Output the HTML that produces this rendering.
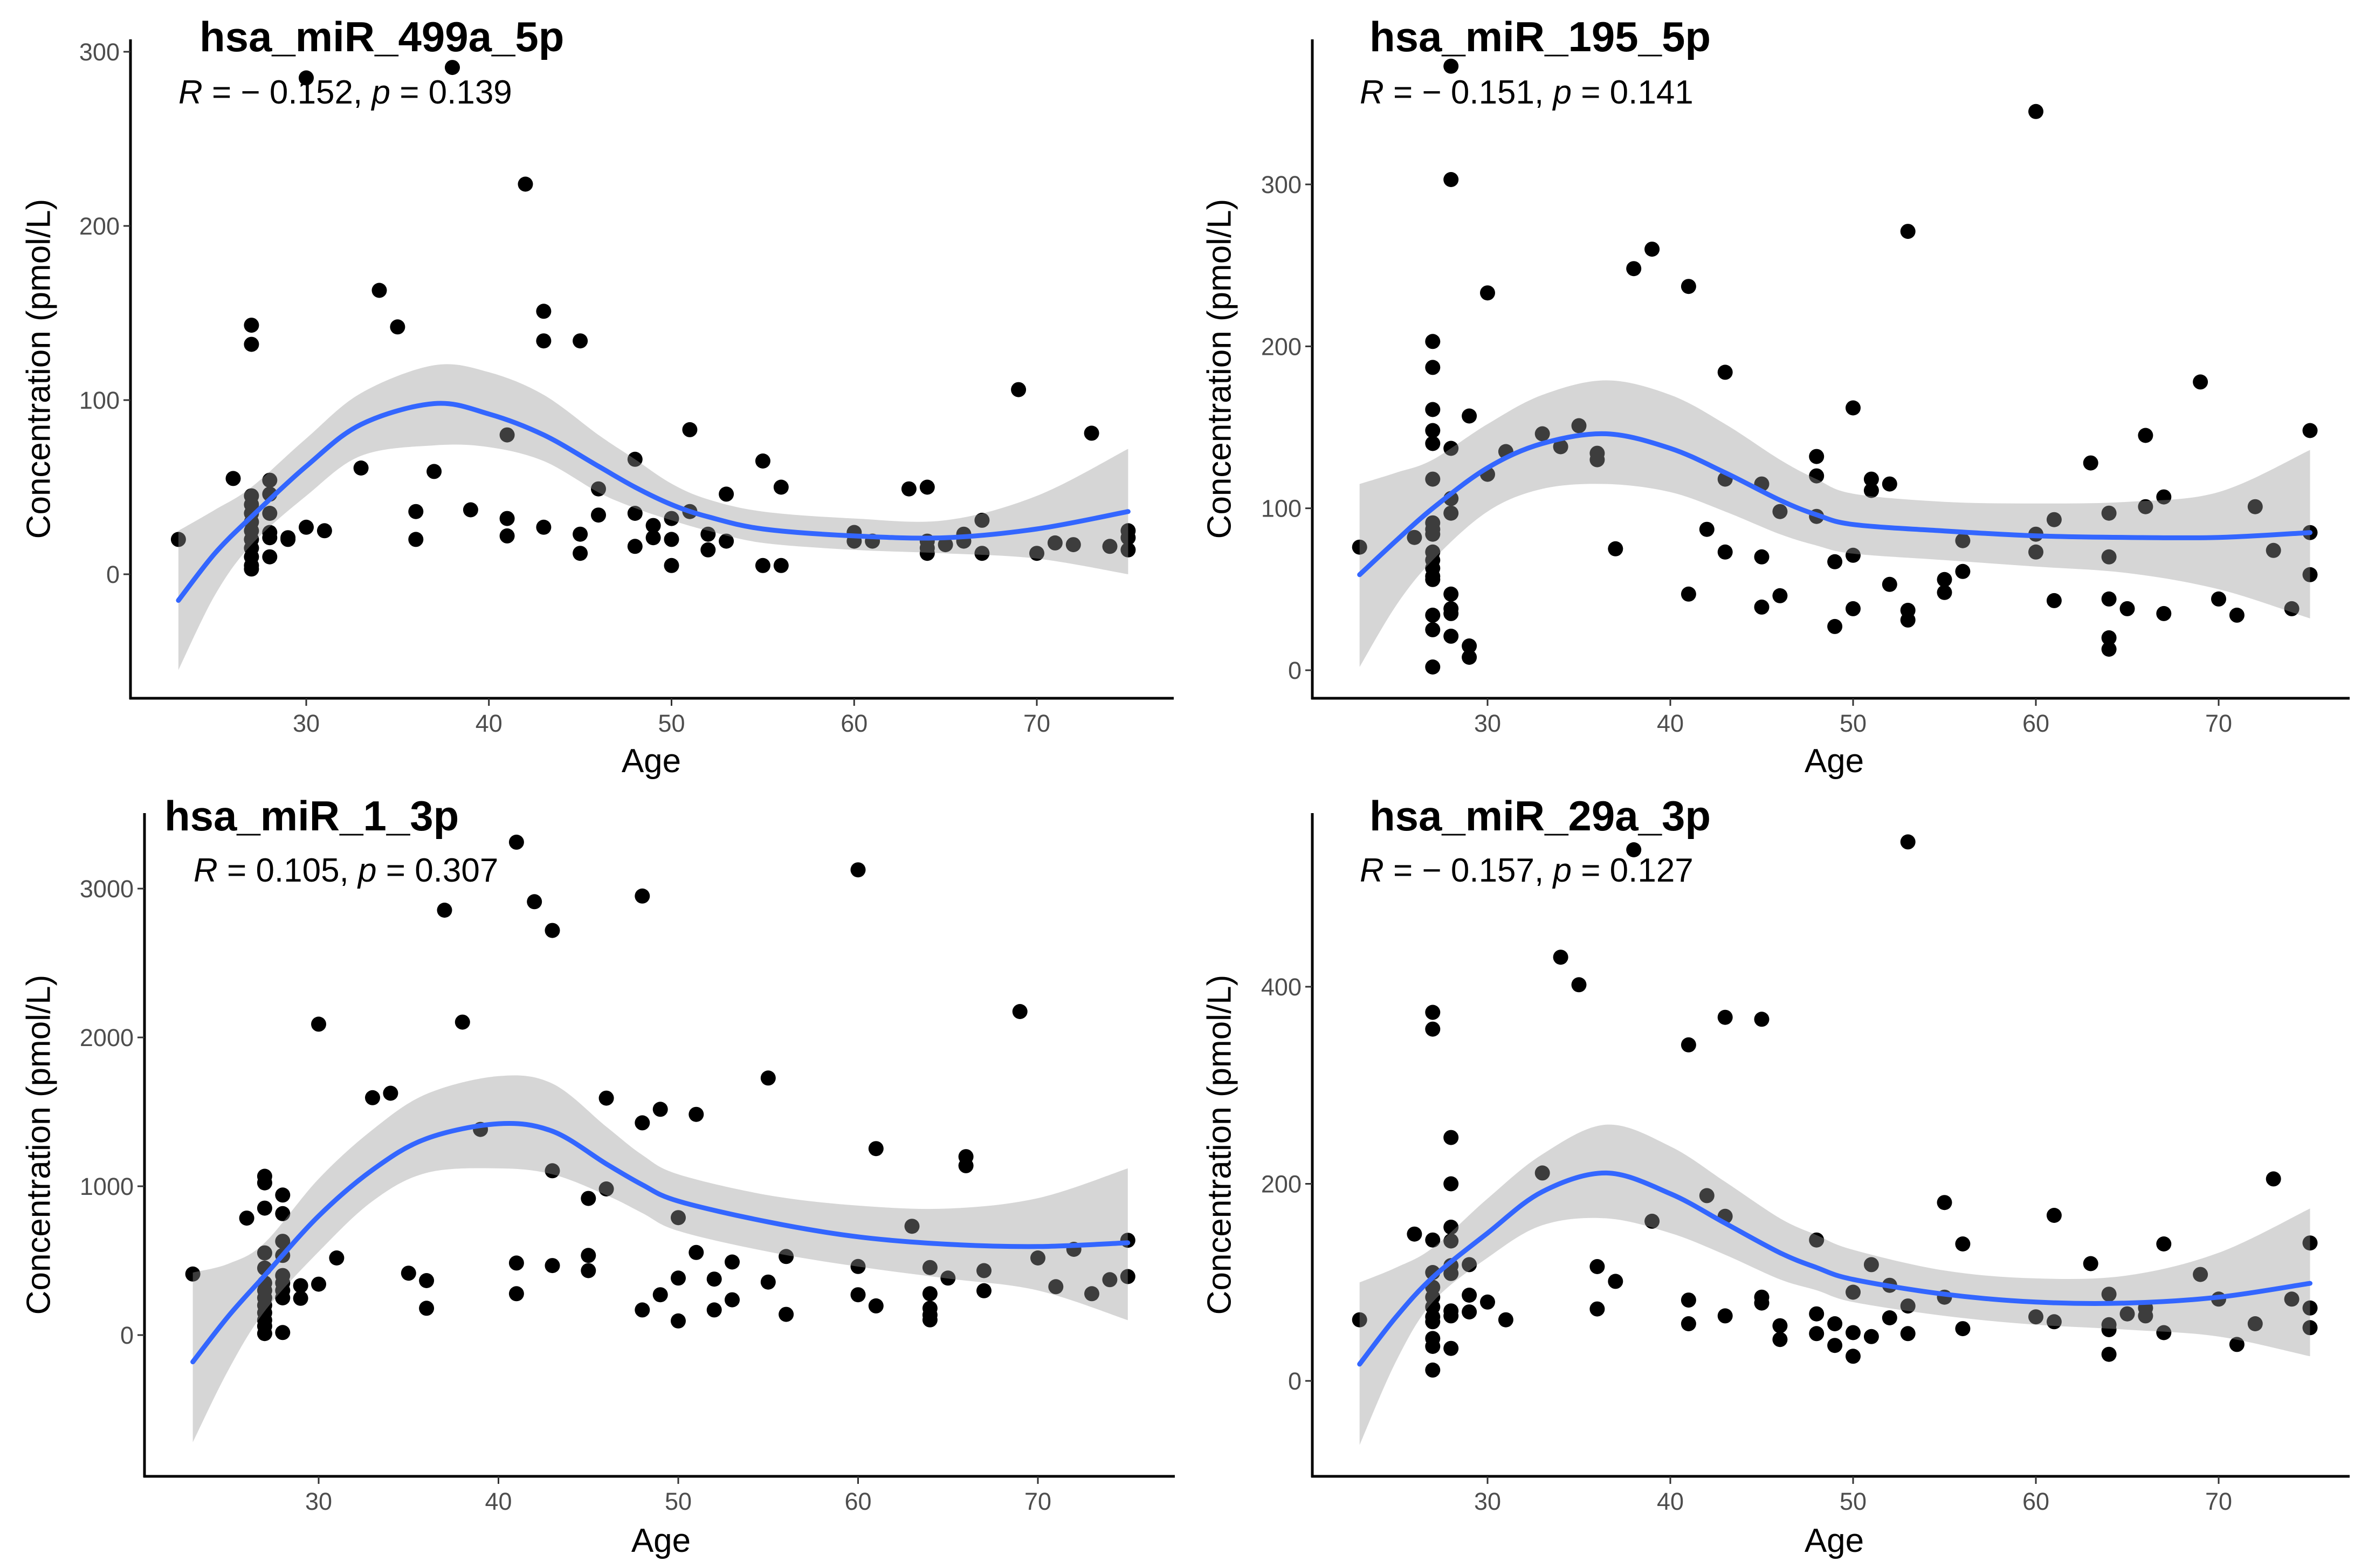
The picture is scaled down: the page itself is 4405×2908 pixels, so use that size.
<!DOCTYPE html>
<html><head><meta charset="utf-8"><style>
html,body{margin:0;padding:0;background:#fff;}
svg{display:block;}
text{font-family:"Liberation Sans",Arial,sans-serif;}
</style></head><body>
<svg id="chart" xmlns="http://www.w3.org/2000/svg" width="4405" height="2908" viewBox="0 0 4405 2908"></svg>
<script>
// ---- Panel 1: hsa_miR_499a_5p ----
const p1Ages = [23,26,27,27,27,27,27,27,27,27,27,27,27,27,28,28,28,28,28,28,29,29,30,30,31,33,34,35,36,36,37,38,39,41,41,41,42,43,43,43,45,45,45,46,46,48,48,48,49,49,50,50,50,51,51,52,52,53,53,55,55,56,56,60,60,61,63,64,64,64,64,65,66,66,67,67,69,70,71,72,73,74,75,75,75];
const p1Vals = [20,55,143,132,45,40,35,30,25,20,15,10,5,3,54,46,35,24,21,10,20,21,285,27,25,61,163,142,36,20,59,291,37,80,32,22,224,151,134,27,134,23,12,49,34,66,35,16,28,21,32,20,5,83,36,23,14,46,19,65,5,50,5,24,19,19,49,50,19,15,12,17,23,19,31,12,106,12,18,17,81,16,25,21,14];
const p1FitAges = [23,25,27,30,33,37,40,43,46,48,50,52,55,60,65,70,75];
const p1Fit = [-15,12,33,62,86,98,92,80,62,50,40,33,26,22,21,26,36];
const p1Lo = [-55,-12,17,45,68,74,73,65,47,38,31,25,18,14,12,9,0];
const p1Hi = [25,37,50,78,104,120,116,103,80,66,52,43,36,32,31,45,72];
const p1YTicks = [0,100,200,300];
// ---- Panel 2: hsa_miR_195_5p ----
const p2Ages = [23,26,27,27,27,27,27,27,27,27,27,27,27,27,27,27,27,27,27,28,28,28,28,28,28,28,28,28,29,29,29,30,30,31,33,34,35,36,36,37,38,39,41,41,42,43,43,43,45,45,45,46,46,48,48,48,49,49,50,50,50,51,51,52,52,53,53,53,55,55,56,56,60,60,60,61,61,63,64,64,64,64,64,65,66,66,67,67,69,70,71,72,73,74,75,75,75];
const p2Vals = [76,82,203,187,161,148,140,118,91,87,84,73,68,63,58,56,34,25,2,373,303,137,106,97,47,38,35,21,157,15,8,233,121,135,146,138,151,134,130,75,248,260,237,47,87,184,118,73,115,70,39,98,46,132,120,95,67,27,162,71,38,118,111,115,53,271,37,31,56,48,80,61,345,84,73,93,43,128,97,70,44,20,13,38,145,101,107,35,178,44,34,101,74,38,148,85,59];
const p2FitAges = [23,25,27,30,33,36.5,40,43,46,48,50,55,60,65,70,75];
const p2Fit = [59,80,100,125,140,146,137,122,105,96,90,86,83,82,82,85];
const p2Lo = [2,40,68,98,112,115,110,98,84,77,72,68,64,60,50,32];
const p2Hi = [115,122,130,152,170,179,170,152,130,118,109,104,103,104,110,136];
const p2YTicks = [0,100,200,300];
// ---- Panel 3: hsa_miR_1_3p ----
const p3Ages = [23,26,27,27,27,27,27,27,27,27,27,27,27,27,27,28,28,28,28,28,28,28,28,28,29,29,30,30,31,33,34,35,36,36,37,38,39,41,41,41,42,43,43,43,45,45,45,46,46,48,48,48,49,49,50,50,50,51,51,52,52,53,53,55,55,56,56,60,60,60,61,61,63,64,64,64,64,64,65,66,66,67,67,69,70,71,72,73,74,75,75];
const p3Vals = [410,786,1067,1023,853,552,450,350,300,250,200,150,100,60,10,941,816,630,535,400,350,300,250,17,332,247,2089,342,518,1595,1625,416,366,180,2855,2103,1382,3312,484,278,2912,2719,1104,467,918,535,433,1592,982,2950,1426,169,1517,271,789,383,95,1483,555,376,169,491,237,1727,356,528,139,3126,461,271,1253,196,731,454,278,180,135,102,383,1199,1138,433,298,2174,518,325,576,278,372,637,393];
const p3FitAges = [23,25,27,30,33,36,40,43,46,48,50,55,60,65,70,75];
const p3Fit = [-180,130,400,800,1110,1320,1420,1370,1150,1010,900,760,660,610,595,620];
const p3Lo = [-720,-230,160,560,900,1090,1120,1080,940,820,700,560,460,380,300,100];
const p3Hi = [420,480,620,1050,1380,1620,1740,1690,1400,1210,1080,940,870,850,920,1120];
const p3YTicks = [0,1000,2000,3000];
// ---- Panel 4: hsa_miR_29a_3p ----
const p4Ages = [23,26,27,27,27,27,27,27,27,27,27,27,27,27,28,28,28,28,28,28,28,28,28,29,29,29,30,31,33,34,35,36,36,37,38,39,41,41,41,42,43,43,43,45,45,45,46,46,48,48,48,49,49,50,50,50,51,51,52,52,53,53,53,55,55,56,56,60,61,61,63,64,64,64,64,65,66,66,67,67,69,70,71,72,73,74,75,75,75];
const p4Vals = [62,149,374,357,143,110,95,85,75,65,60,43,35,11,247,200,156,142,117,109,71,66,33,118,87,70,80,62,211,430,402,116,73,101,539,162,341,82,58,188,369,167,66,367,85,79,56,42,143,68,48,58,36,90,49,25,118,45,97,64,547,76,48,181,85,139,53,65,168,60,119,88,57,52,27,68,74,66,139,49,108,83,37,58,205,83,140,74,54];
const p4FitAges = [23,25,27,30,33,36.5,40,43,46,48,50,55,60,65,70,75];
const p4Fit = [17,65,105,150,192,211,190,160,130,115,103,88,80,79,85,99];
const p4Lo = [-65,20,80,125,158,165,150,128,103,92,80,66,57,52,45,25];
const p4Hi = [100,115,135,185,230,260,238,202,165,148,133,112,104,107,130,175];
const p4YTicks = [0,200,400];
const xTicks = [30,40,50,60,70];

const NS = 'http://www.w3.org/2000/svg';
const svg = document.getElementById('chart');
function mk(tag, attrs, parent){
  const e = document.createElementNS(NS, tag);
  for (const k in attrs) e.setAttribute(k, attrs[k]);
  (parent||svg).appendChild(e);
  return e;
}
function smoothPath(pts, move){
  let d = (move ? 'M' : 'L') + pts[0][0].toFixed(1) + ',' + pts[0][1].toFixed(1);
  for (let i=0;i<pts.length-1;i++){
    const p0 = pts[i-1]||pts[i], p1 = pts[i], p2 = pts[i+1], p3 = pts[i+2]||p2;
    const c1 = [p1[0]+(p2[0]-p0[0])/6, p1[1]+(p2[1]-p0[1])/6];
    const c2 = [p2[0]-(p3[0]-p1[0])/6, p2[1]-(p3[1]-p1[1])/6];
    d += 'C'+c1[0].toFixed(1)+','+c1[1].toFixed(1)+' '+c2[0].toFixed(1)+','+c2[1].toFixed(1)+' '+p2[0].toFixed(1)+','+p2[1].toFixed(1);
  }
  return d;
}

const panels = [
  {key:'p1', title:'hsa_miR_499a_5p', r:'\u2212 0.152', p:'0.139', ages:p1Ages, vals:p1Vals, fa:p1FitAges, fit:p1Fit, lo:p1Lo, hi:p1Hi, yt:p1YTicks,
   axX:242, axY:1295, top:73, right:2177, x30:568, x70:1923, y0:1065, yRef:300, yRefPx:96, titleX:370, titleY:95, annX:331, annY:192, ytX:76, ageX:1208, ageY:1432},
  {key:'p2', title:'hsa_miR_195_5p', r:'\u2212 0.151', p:'0.141', ages:p2Ages, vals:p2Vals, fa:p2FitAges, fit:p2Fit, lo:p2Lo, hi:p2Hi, yt:p2YTicks,
   axX:2434, axY:1295, top:73, right:4358, x30:2759, x70:4115, y0:1243, yRef:300, yRefPx:342, titleX:2540, titleY:95, annX:2522, annY:192, ytX:2266, ageX:3402, ageY:1432},
  {key:'p3', title:'hsa_miR_1_3p', r:'0.105', p:'0.307', ages:p3Ages, vals:p3Vals, fa:p3FitAges, fit:p3Fit, lo:p3Lo, hi:p3Hi, yt:p3YTicks,
   axX:268, axY:2738, top:1508, right:2179, x30:591, x70:1925, y0:2476, yRef:3000, yRefPx:1648, titleX:305, titleY:1540, annX:359, annY:1635, ytX:76, ageX:1226, ageY:2878},
  {key:'p4', title:'hsa_miR_29a_3p', r:'\u2212 0.157', p:'0.127', ages:p4Ages, vals:p4Vals, fa:p4FitAges, fit:p4Fit, lo:p4Lo, hi:p4Hi, yt:p4YTicks,
   axX:2434, axY:2738, top:1508, right:4358, x30:2759, x70:4115, y0:2561, yRef:400, yRefPx:1830, titleX:2540, titleY:1540, annX:2522, annY:1635, ytX:2266, ageX:3402, ageY:2878}
];

panels.forEach(P => {
  const g = mk('g', {});
  
  
  const xs = a => P.x30 + (a-30)*(P.x70-P.x30)/40;
  const ys = v => P.y0 - v*(P.y0-P.yRefPx)/P.yRef;

  const pg = mk('g', {}, g);
  
  
  P.ages.forEach((a,i) => {
    const c = mk('circle', {cx:xs(a).toFixed(1), cy:ys(P.vals[i]).toFixed(1), r:14, fill:'#000'}, pg);
    
    
  });

  const hiPts = P.fa.map((a,i)=>[xs(a), ys(P.hi[i])]);
  const loPts = P.fa.map((a,i)=>[xs(a), ys(P.lo[i])]).reverse();
  const band = mk('path', {d: smoothPath(hiPts,true)+smoothPath(loPts,false)+'Z', fill:'#999999', 'fill-opacity':0.4, stroke:'none'}, g);
  
  

  const fitPts = P.fa.map((a,i)=>[xs(a), ys(P.fit[i])]);
  const line = mk('path', {d: smoothPath(fitPts,true), fill:'none', stroke:'#3366FF', 'stroke-width':9, 'stroke-linecap':'round'}, g);
  
  

  const ya = mk('line', {x1:P.axX, y1:P.top, x2:P.axX, y2:P.axY+2, stroke:'#000', 'stroke-width':5}, g);
  
  
  const xa = mk('line', {x1:P.axX-2, y1:P.axY, x2:P.right, y2:P.axY, stroke:'#000', 'stroke-width':5}, g);
  
  

  P.yt.forEach(v => {
    const y = ys(v);
    mk('line', {x1:P.axX-13, y1:y, x2:P.axX, y2:y, stroke:'#333', 'stroke-width':3}, g);
    const t = mk('text', {x:P.axX-20, y:y+16, 'text-anchor':'end', 'font-size':45, fill:'#4d4d4d'}, g);
    t.textContent = v;
    
    
  });
  xTicks.forEach(a => {
    const x = xs(a);
    mk('line', {x1:x, y1:P.axY, x2:x, y2:P.axY+14, stroke:'#333', 'stroke-width':3}, g);
    const t = mk('text', {x:x, y:P.axY+62, 'text-anchor':'middle', 'font-size':45, fill:'#4d4d4d'}, g);
    t.textContent = a;
    
    
  });

  const midY = (P.top + P.axY)/2;
  const yt = mk('text', {x:P.ytX, y:midY, 'text-anchor':'middle', 'font-size':62, fill:'#000', transform:'rotate(-90 '+P.ytX+' '+midY+')', 'dominant-baseline':'middle'}, g);
  yt.textContent = 'Concentration (pmol/L)';
  
  

  const xt = mk('text', {x:P.ageX, y:P.ageY, 'text-anchor':'middle', 'font-size':62, fill:'#000'}, g);
  xt.textContent = 'Age';
  
  

  const tt = mk('text', {x:P.titleX, y:P.titleY, 'font-size':78, 'font-weight':'bold', fill:'#000'}, g);
  tt.textContent = P.title;
  
  

  const an = mk('text', {x:P.annX, y:P.annY, 'font-size':62, fill:'#000'}, g);
  
  
  const s1 = mk('tspan', {'font-style':'italic'}, an); s1.textContent = 'R';
  const s2 = mk('tspan', {}, an); s2.textContent = ' = ' + P.r + ', ';
  const s3 = mk('tspan', {'font-style':'italic'}, an); s3.textContent = 'p';
  const s4 = mk('tspan', {}, an); s4.textContent = ' = ' + P.p;
});
</script>
</body></html>
